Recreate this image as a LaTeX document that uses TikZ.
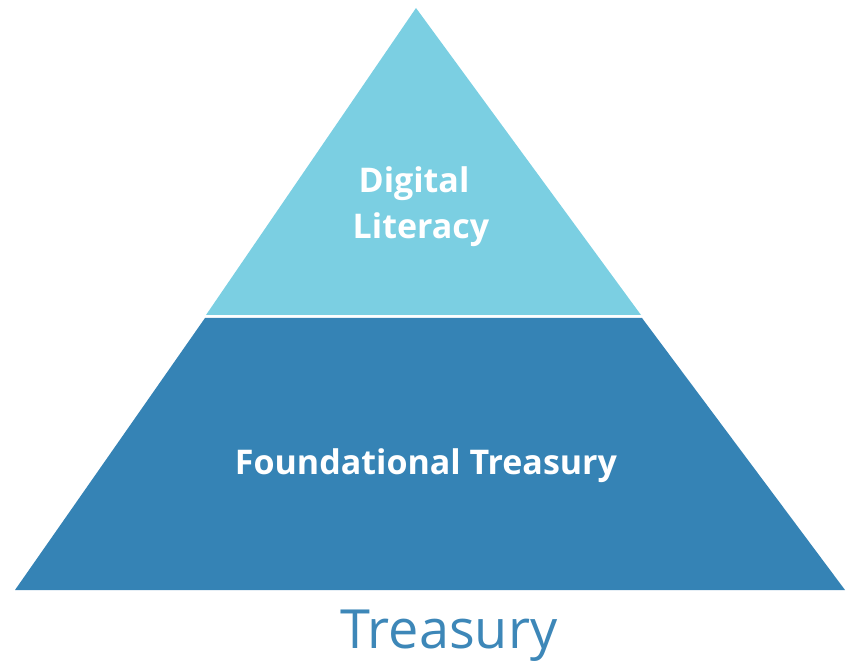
\documentclass[tikz,border=0pt]{standalone}
\usepackage{fontspec}
\setmainfont{Open Sans}
\usepackage{tikz}
\usetikzlibrary{positioning}
\usepackage{xcolor}
\definecolor{lightteal}{RGB}{123,207,226}
\definecolor{deepblue}{RGB}{53,131,181}
\definecolor{titleblue}{RGB}{61,135,184}

\begin{document}
\begin{tikzpicture}[
                line join=miter,
                layertext/.style={text=white, font=\bfseries\fontsize{34}{40}\selectfont, inner sep=0pt, anchor=base},
                basetext/.style={text=titleblue, font=\fontsize{54}{60}\selectfont, inner sep=0pt, anchor=base}
                ]
                %% Frame
                \useasboundingbox (0pt, 0pt) rectangle (846pt, 665pt);

                %% Layers
\fill[deepblue] (15pt, 75pt) -- (845pt, 75pt) -- (642pt, 347pt) -- (205pt, 347pt) -- cycle;
\fill[lightteal] (206pt, 350pt) -- (641pt, 350pt) -- (416pt, 657pt) -- cycle;

%% Labels
                    \node[layertext] (digital) at (414pt, 472pt) {Digital};
                    \node[layertext] (literacy) at (421pt, 426pt) {Literacy};
                    \node[layertext] (foundational) at (426pt, 191pt) {Foundational Treasury};
                    \node[basetext] (treasury) at (449pt, 17pt) {Treasury};
                    \end{tikzpicture}
\end{document}
